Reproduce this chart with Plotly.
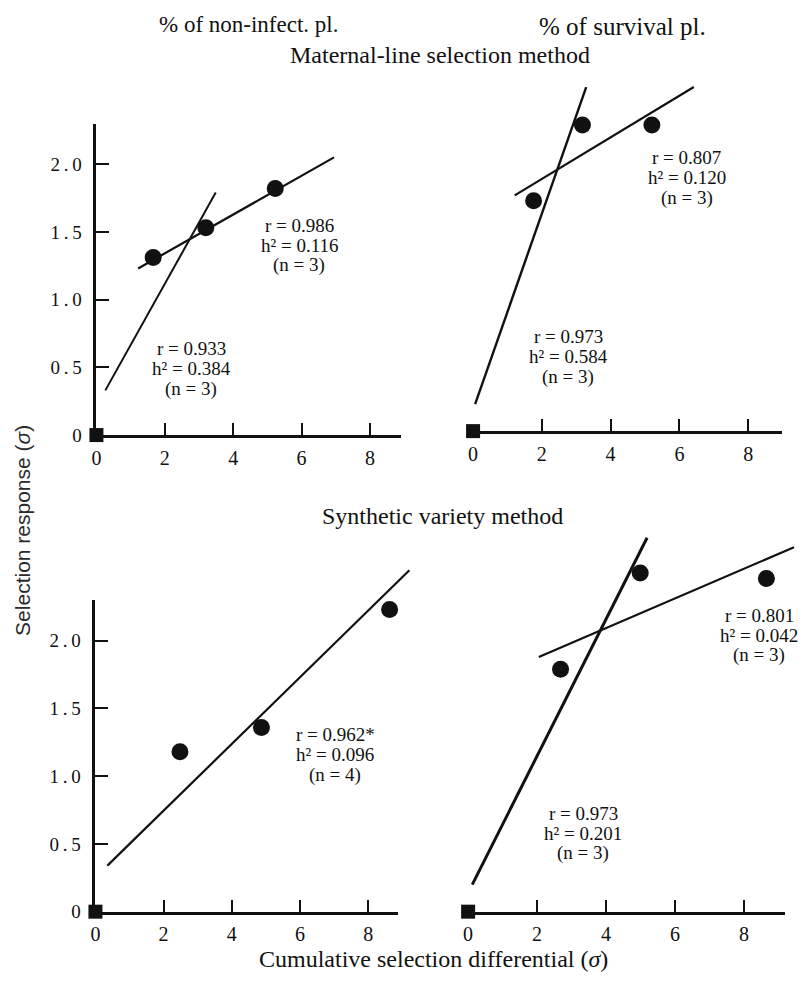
import plotly.graph_objects as go

W, H = 807, 982

# ---------------- data ----------------
# Panel A: Maternal-line selection, % of non-infected plants
a_pts_x = [1.66, 3.20, 5.23]
a_pts_y = [1.31, 1.53, 1.82]
a_fit1_x = [1.22, 6.95]
a_fit1_y = [1.23, 2.05]
a_fit2_x = [0.26, 3.49]
a_fit2_y = [0.33, 1.79]
a_note1 = ["r = 0.986", "h² = 0.116", "(n = 3)"]
a_note2 = ["r = 0.933", "h² = 0.384", "(n = 3)"]

# Panel B: Maternal-line selection, % of survival plants
b_pts_x = [1.76, 3.18, 5.20]
b_pts_y = [1.70, 2.26, 2.26]
b_fit1_x = [1.21, 6.42]
b_fit1_y = [1.74, 2.54]
b_fit2_x = [0.06, 3.29]
b_fit2_y = [0.20, 2.54]
b_note1 = ["r = 0.807", "h² = 0.120", "(n = 3)"]
b_note2 = ["r = 0.973", "h² = 0.584", "(n = 3)"]

# Panel C: Synthetic variety, % of non-infected plants
c_pts_x = [2.48, 4.87, 8.63]
c_pts_y = [1.18, 1.36, 2.23]
c_fit1_x = [0.35, 9.21]
c_fit1_y = [0.34, 2.52]
c_note1 = ["r = 0.962*", "h² = 0.096", "(n = 4)"]

# Panel D: Synthetic variety, % of survival plants
d_pts_x = [2.68, 4.99, 8.65]
d_pts_y = [1.79, 2.50, 2.46]
d_fit1_x = [2.05, 9.45]
d_fit1_y = [1.88, 2.69]
d_fit2_x = [0.12, 5.19]
d_fit2_y = [0.20, 2.76]
d_note1 = ["r = 0.801", "h² = 0.042", "(n = 3)"]
d_note2 = ["r = 0.973", "h² = 0.201", "(n = 3)"]

origin_x = [0]
origin_y = [0]

x_tickvals = [0, 2, 4, 6, 8]
x_ticktext = ["0", "2", "4", "6", "8"]
y_tickvals = [0, 0.5, 1.0, 1.5, 2.0]
y_ticktext = ["0", "0\u2009.\u20095", "1\u2009.\u20090", "1\u2009.\u20095", "2\u2009.\u20090"]

# ---------------- layout geometry ----------------
SY = 137.0        # px per y unit
X_DATA_MAX = 9.6  # data-subplot ranges (axes hidden)
Y_DATA_MAX = 2.9
Y_AXIS_MAX = 2.3  # visible y axis length
LINE_GAP = 20     # px between annotation lines

panels = [
    dict(ox=92, oy=440, sx=34.4, xe=8.9, left=True,
         pts=(a_pts_x, a_pts_y),
         fits=[(a_fit1_x, a_fit1_y, 2.2), (a_fit2_x, a_fit2_y, 2.0)],
         notes=[(5.93, 1.40, a_note1), (2.77, 0.49, a_note2)]),
    dict(ox=471, oy=436, sx=34.6, xe=8.99, left=False,
         pts=(b_pts_x, b_pts_y),
         fits=[(b_fit1_x, b_fit1_y, 2.2), (b_fit2_x, b_fit2_y, 2.4)],
         notes=[(6.21, 1.87, b_note1), (2.77, 0.55, b_note2)]),
    dict(ox=91, oy=922, sx=34.3, xe=8.89, left=True,
         pts=(c_pts_x, c_pts_y),
         fits=[(c_fit1_x, c_fit1_y, 2.2)],
         notes=[(7.03, 1.16, c_note1)]),
    dict(ox=466, oy=922, sx=34.7, xe=9.19, left=False,
         pts=(d_pts_x, d_pts_y),
         fits=[(d_fit1_x, d_fit1_y, 2.2), (d_fit2_x, d_fit2_y, 3.0)],
         notes=[(8.44, 2.04, d_note1), (3.34, 0.58, d_note2)]),
]

SERIF = "Liberation Serif"
INK = "#111111"

fig = go.Figure()
layout = {}
annotations = []


def ax_name(i):
    return "" if i == 1 else str(i)


for k, p in enumerate(panels):
    di = k + 1      # data subplot index
    ai = k + 5      # axis-only subplot index
    ox, oy, sx = p["ox"], p["oy"], p["sx"]

    # data subplot (hidden axes, extended ranges so fit lines are not clipped)
    layout["xaxis" + ax_name(di)] = dict(
        domain=[ox / W, (ox + X_DATA_MAX * sx) / W], range=[0, X_DATA_MAX],
        visible=False, anchor="y" + ax_name(di), fixedrange=True)
    layout["yaxis" + ax_name(di)] = dict(
        domain=[1 - oy / H, 1 - (oy - Y_DATA_MAX * SY) / H], range=[0, Y_DATA_MAX],
        visible=False, anchor="x" + ax_name(di), fixedrange=True)

    # axis-only subplot (same origin and scale)
    layout["xaxis" + ax_name(ai)] = dict(
        domain=[ox / W, (ox + p["xe"] * sx) / W], range=[0, p["xe"]],
        anchor="y" + ax_name(ai), showline=True, linecolor=INK, linewidth=2.6,
        showgrid=False, zeroline=False, ticks="",
        tickvals=x_tickvals, ticktext=x_ticktext,
        ticklabelstandoff=3,
        tickfont=dict(family=SERIF, size=20, color=INK),
        minor=dict(tickvals=[2, 4, 6, 8], ticks="inside", ticklen=12,
                   tickwidth=2.2, tickcolor=INK, showgrid=False),
        fixedrange=True)
    ydict = dict(
        domain=[1 - oy / H, 1 - (oy - Y_AXIS_MAX * SY) / H], range=[0, Y_AXIS_MAX],
        anchor="x" + ax_name(ai), showgrid=False, zeroline=False, fixedrange=True)
    if p["left"]:
        ydict.update(showline=True, linecolor=INK, linewidth=2.6, ticks="",
                     tickvals=y_tickvals, ticktext=y_ticktext,
                     ticklabelstandoff=8,
                     tickfont=dict(family=SERIF, size=19, color=INK),
                     minor=dict(tickvals=[0.5, 1.0, 1.5, 2.0], ticks="inside",
                                ticklen=13, tickwidth=2.2, tickcolor=INK,
                                showgrid=False))
    else:
        ydict.update(visible=False)
    layout["yaxis" + ax_name(ai)] = ydict

    # fit lines
    for fx, fy, w in p["fits"]:
        fig.add_trace(go.Scatter(
            x=fx, y=fy, mode="lines", line=dict(color=INK, width=w),
            xaxis="x" + ax_name(di), yaxis="y" + ax_name(di),
            showlegend=False, hoverinfo="skip"))
    # observed points
    px, py = p["pts"]
    fig.add_trace(go.Scatter(
        x=px, y=py, mode="markers",
        marker=dict(symbol="circle", size=17, color=INK),
        xaxis="x" + ax_name(di), yaxis="y" + ax_name(di),
        cliponaxis=False, showlegend=False, hoverinfo="skip"))
    # origin square (on the axis subplot)
    fig.add_trace(go.Scatter(
        x=origin_x, y=origin_y, mode="markers",
        marker=dict(symbol="square", size=14, color=INK),
        xaxis="x" + ax_name(ai), yaxis="y" + ax_name(ai),
        cliponaxis=False, showlegend=False, hoverinfo="skip"))

    # statistics notes, one annotation per line for tight spacing
    for nx, ny, lines in p["notes"]:
        for j, txt in enumerate(lines):
            annotations.append(dict(
                x=nx, y=ny, xref="x" + ax_name(di), yref="y" + ax_name(di),
                yshift=(1 - j) * LINE_GAP,
                text=txt, showarrow=False, xanchor="center", yanchor="middle",
                font=dict(family=SERIF, size=19, color=INK)))


def paper(xp, yp):
    return xp / W, 1 - yp / H


for txt, (xp, yp), size in [
    ("% of non-infect. pl.", (245, 25), 23),
    ("% of survival pl.", (621, 27), 25),
    ("Maternal-line selection method", (438, 56), 24),
    ("Synthetic variety method", (440, 522), 24),
    ("Cumulative selection differential (<i>σ</i>)", (431, 970), 24),
]:
    x, y = paper(xp, yp)
    annotations.append(dict(x=x, y=y, xref="paper", yref="paper", text=txt,
                            showarrow=False, xanchor="center", yanchor="middle",
                            font=dict(family=SERIF, size=size, color=INK)))

x, y = paper(18, 536)
annotations.append(dict(x=x, y=y, xref="paper", yref="paper",
                        text="Selection response (<i>σ</i>)", textangle=-90,
                        showarrow=False, xanchor="center", yanchor="middle",
                        font=dict(family="Liberation Sans", size=21, color="#2a2a2a")))

fig.update_layout(
    width=W, height=H, autosize=False,
    margin=dict(l=0, r=0, t=0, b=0),
    paper_bgcolor="white", plot_bgcolor="rgba(0,0,0,0)",
    showlegend=False,
    annotations=annotations,
    **layout,
)

fig.write_html(
    "out.html",
    config={"displayModeBar": False, "responsive": False},
    post_script="document.body.style.margin='0';document.body.style.overflow='hidden';",
)
